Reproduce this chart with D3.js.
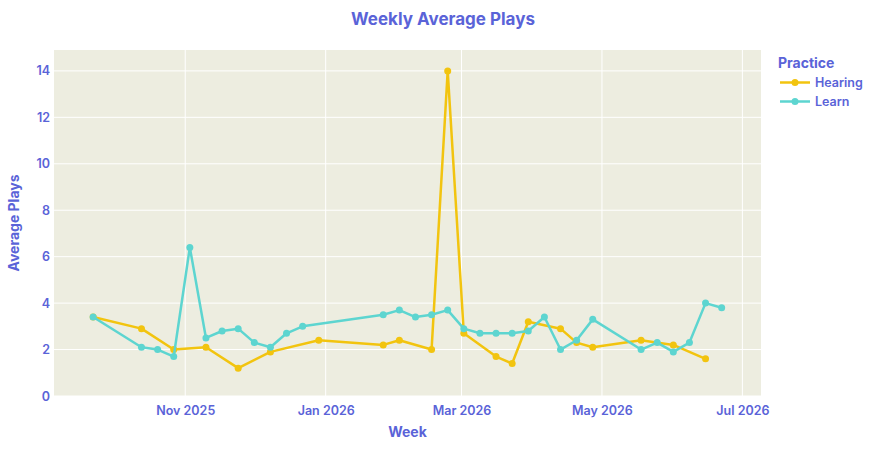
<!DOCTYPE html>
<html>
<head>
<meta charset="utf-8">
<script src="https://cdn.jsdelivr.net/npm/d3@7"></script>
<style>
  body { margin: 0; background: #fff; }
  svg { display: block; font-family: Inter, "Noto Sans", sans-serif; }
</style>
</head>
<body>
<svg id="chart"></svg>
<script>
  const hearingWeeks = [
    "2025-09-22", "2025-10-13", "2025-10-27", "2025-11-10", "2025-11-24",
    "2025-12-08", "2025-12-29", "2026-01-26", "2026-02-02", "2026-02-16",
    "2026-02-23", "2026-03-02", "2026-03-16", "2026-03-23", "2026-03-30",
    "2026-04-13", "2026-04-20", "2026-04-27", "2026-05-18", "2026-06-01",
    "2026-06-15",
  ];
  const hearingValues = [
    3.4, 2.9, 2.0, 2.1, 1.2, 1.9, 2.4, 2.2, 2.4, 2.0, 14.0, 2.7, 1.7, 1.4, 3.2,
    2.9, 2.3, 2.1, 2.4, 2.2, 1.6,
  ];
  const learnWeeks = [
    "2025-09-22", "2025-10-13", "2025-10-20", "2025-10-27", "2025-11-03",
    "2025-11-10", "2025-11-17", "2025-11-24", "2025-12-01", "2025-12-08",
    "2025-12-15", "2025-12-22", "2026-01-26", "2026-02-02", "2026-02-09",
    "2026-02-16", "2026-02-23", "2026-03-02", "2026-03-09", "2026-03-16",
    "2026-03-23", "2026-03-30", "2026-04-06", "2026-04-13", "2026-04-20",
    "2026-04-27", "2026-05-18", "2026-05-25", "2026-06-01", "2026-06-08",
    "2026-06-15", "2026-06-22",
  ];
  const learnValues = [
    3.4, 2.1, 2.0, 1.7, 6.4, 2.5, 2.8, 2.9, 2.3, 2.1, 2.7, 3.0, 3.5, 3.7, 3.4,
    3.5, 3.7, 2.9, 2.7, 2.7, 2.7, 2.8, 3.4, 2.0, 2.4, 3.3, 2.0, 2.3, 1.9, 2.3,
    4.0, 3.8,
  ];
  const yTicks = [0, 2, 4, 6, 8, 10, 12, 14];
  const xTicks = ["2025-11-01", "2026-01-01", "2026-03-01", "2026-05-01", "2026-07-01"];

  const parseDate = d3.utcParse("%Y-%m-%d");
  const series = [
    {
      name: "Hearing",
      color: "#F2C40F",
      points: hearingWeeks.map((w, i) => ({ date: parseDate(w), value: hearingValues[i] })),
    },
    {
      name: "Learn",
      color: "#5DD5D0",
      points: learnWeeks.map((w, i) => ({ date: parseDate(w), value: learnValues[i] })),
    },
  ];

  const textColor = "#5A63D8";
  const totalWidth = 886;
  const totalHeight = 450;
  const margin = { top: 50, right: 125, bottom: 54, left: 54 };
  const width = totalWidth - margin.left - margin.right;
  const height = totalHeight - margin.top - margin.bottom;

  const root = d3.select("#chart").attr("width", totalWidth).attr("height", totalHeight);

  root
    .append("text")
    .attr("x", totalWidth / 2)
    .attr("y", 25)
    .attr("text-anchor", "middle")
    .attr("font-size", "17px")
    .attr("font-weight", 700)
    .attr("fill", textColor)
    .text("Weekly Average Plays");

  const svg = root.append("g").attr("transform", `translate(${margin.left}, ${margin.top})`);

  const xScale = d3
    .scaleUtc()
    .domain([parseDate("2025-09-05"), new Date(Date.UTC(2026, 6, 9, 2))])
    .range([0, width]);
  const yScale = d3.scaleLinear().domain([0, 14.9]).range([height, 0]);

  svg.append("rect").attr("width", width).attr("height", height).attr("fill", "#EDEDE0");

  // grid
  svg
    .selectAll(".ygrid")
    .data(yTicks)
    .enter()
    .append("line")
    .attr("x1", 0)
    .attr("x2", width)
    .attr("y1", (d) => yScale(d))
    .attr("y2", (d) => yScale(d))
    .attr("stroke", "#fff")
    .attr("stroke-width", 1);
  svg
    .selectAll(".xgrid")
    .data(xTicks.map(parseDate))
    .enter()
    .append("line")
    .attr("x1", (d) => xScale(d))
    .attr("x2", (d) => xScale(d))
    .attr("y1", 0)
    .attr("y2", height)
    .attr("stroke", "#fff")
    .attr("stroke-width", 1);

  const yAxis = svg
    .append("g")
    .call(d3.axisLeft(yScale).tickValues(yTicks).tickSize(0).tickPadding(4));
  const xAxis = svg
    .append("g")
    .attr("transform", `translate(0, ${height})`)
    .call(
      d3
        .axisBottom(xScale)
        .tickValues(xTicks.map(parseDate))
        .tickFormat(d3.utcFormat("%b %Y"))
        .tickSize(0)
        .tickPadding(10)
    );
  [xAxis, yAxis].forEach((ax) => {
    ax.select(".domain").remove();
    ax.selectAll("text")
      .attr("fill", textColor)
      .attr("font-size", "12.5px")
      .attr("font-weight", 600)
      .attr("font-family", "Inter, sans-serif");
  });

  svg
    .append("text")
    .attr("x", width / 2)
    .attr("y", height + 41)
    .attr("text-anchor", "middle")
    .attr("font-size", "14px")
    .attr("font-weight", 700)
    .attr("fill", textColor)
    .text("Week");
  svg
    .append("text")
    .attr("transform", `translate(${-35}, ${height / 2}) rotate(-90)`)
    .attr("text-anchor", "middle")
    .attr("font-size", "14px")
    .attr("font-weight", 700)
    .attr("fill", textColor)
    .text("Average Plays");

  const line = d3
    .line()
    .x((d) => xScale(d.date))
    .y((d) => yScale(d.value));

  series.forEach((s) => {
    svg
      .append("path")
      .datum(s.points)
      .attr("fill", "none")
      .attr("stroke", s.color)
      .attr("stroke-width", 2.5)
      .attr("stroke-linejoin", "round")
      .attr("d", line);
    svg
      .selectAll(null)
      .data(s.points)
      .enter()
      .append("circle")
      .attr("cx", (d) => xScale(d.date))
      .attr("cy", (d) => yScale(d.value))
      .attr("r", 3.5)
      .attr("fill", s.color);
  });

  // legend
  const legend = root.append("g").attr("transform", "translate(778, 0)");
  legend
    .append("text")
    .attr("x", 0)
    .attr("y", 68)
    .attr("font-size", "14px")
    .attr("font-weight", 700)
    .attr("fill", textColor)
    .text("Practice");
  series.forEach((s, i) => {
    const y = 82.5 + i * 19;
    legend
      .append("line")
      .attr("x1", 2)
      .attr("x2", 32)
      .attr("y1", y)
      .attr("y2", y)
      .attr("stroke", s.color)
      .attr("stroke-width", 2.5);
    legend.append("circle").attr("cx", 17).attr("cy", y).attr("r", 3.5).attr("fill", s.color);
    legend
      .append("text")
      .attr("x", 37)
      .attr("y", y + 4.5)
      .attr("font-size", "12.5px")
      .attr("font-weight", 600)
      .attr("fill", textColor)
      .text(s.name);
  });
</script>
</body>
</html>
